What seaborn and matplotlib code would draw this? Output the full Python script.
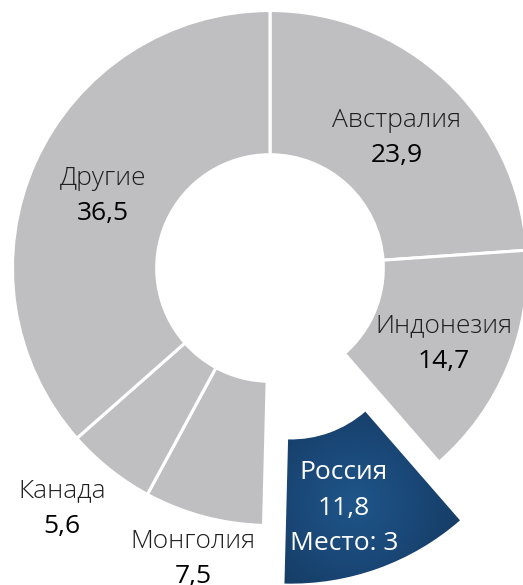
import numpy as np
import matplotlib
matplotlib.use("Agg")
import matplotlib.pyplot as plt
import seaborn as sns
from matplotlib.colors import LinearSegmentedColormap

# ---- data ----
countries = ["Австралия", "Индонезия", "Россия", "Монголия", "Канада", "Другие"]
shares = [23.9, 14.7, 11.8, 7.5, 5.6, 36.5]
value_labels = ["23,9", "14,7", "11,8", "7,5", "5,6", "36,5"]
extra_lines = ["", "", "Место: 3", "", "", ""]
highlight = "Россия"

# ---- style / layout ----
explode = [0.24 if c == highlight else 0 for c in countries]
label_radius = [0.715, 0.73, 0.724, 1.155, 1.225, 0.71]
label_shift_deg = [-0.5, 0.0, -3.3, 0.0, -2.8, 0.0]
gray = "#BFBFC1"
dark_blue = "#1A4775"

sns.set_theme(style="white")
plt.rcParams['font.family'] = ['Open Sans', 'DejaVu Sans']

fig = plt.figure(figsize=(5.23, 5.85), dpi=100)
ax = fig.add_axes([0, 0, 1, 1])

colors = [dark_blue if c == highlight else gray for c in countries]
wedges, _ = ax.pie(shares, startangle=90, counterclock=False, colors=colors,
                   explode=explode, radius=1,
                   wedgeprops=dict(width=0.56, edgecolor="white", linewidth=2.2))

# radial gradient on highlighted wedge
hi = countries.index(highlight)
hw = wedges[hi]
mid = np.deg2rad((hw.theta1 + hw.theta2) / 2)
gc = np.array(hw.center) + 0.73 * np.array([np.cos(mid), np.sin(mid)])
xs = np.linspace(-0.4, 1.0, 300)
ys = np.linspace(-1.3, -0.2, 300)
X, Y = np.meshgrid(xs, ys)
D = np.sqrt((X - gc[0]) ** 2 + (Y - gc[1]) ** 2)
D = np.clip(D / 0.45, 0, 1)
cmap = LinearSegmentedColormap.from_list("rg", ["#1F5689", "#1A4878", "#153B62"])
im = ax.imshow(D, extent=(xs[0], xs[-1], ys[0], ys[-1]), origin="lower",
               cmap=cmap, vmin=0, vmax=1, interpolation="bilinear", zorder=2)
im.set_clip_path(hw)

# labels
spacing = 25.5  # points
y_nudge = -2.5  # points
for i, w in enumerate(wedges):
    m = np.deg2rad((w.theta1 + w.theta2) / 2 + label_shift_deg[i])
    pos = np.array(w.center) + label_radius[i] * np.array([np.cos(m), np.sin(m)])
    lines = [countries[i], value_labels[i]] + ([extra_lines[i]] if extra_lines[i] else [])
    n = len(lines)
    for j, t in enumerate(lines):
        off = ((n - 1) / 2 - j) * spacing + y_nudge
        if countries[i] == highlight:
            col, wt = "white", "normal"
        elif j == 0:
            col, wt = "#1E1E1E", "light"
        else:
            col, wt = "black", "normal"
        ax.annotate(t, xy=pos, xytext=(0, off), textcoords="offset points",
                    ha="center", va="center", fontsize=19, color=col,
                    fontweight=wt, zorder=5)

ax.set_xlim(-1.0485, 0.9825)
ax.set_ylim(-1.2311, 1.0408)
ax.set_aspect("auto")
ax.axis("off")
fig.savefig("out.png", dpi=100)
